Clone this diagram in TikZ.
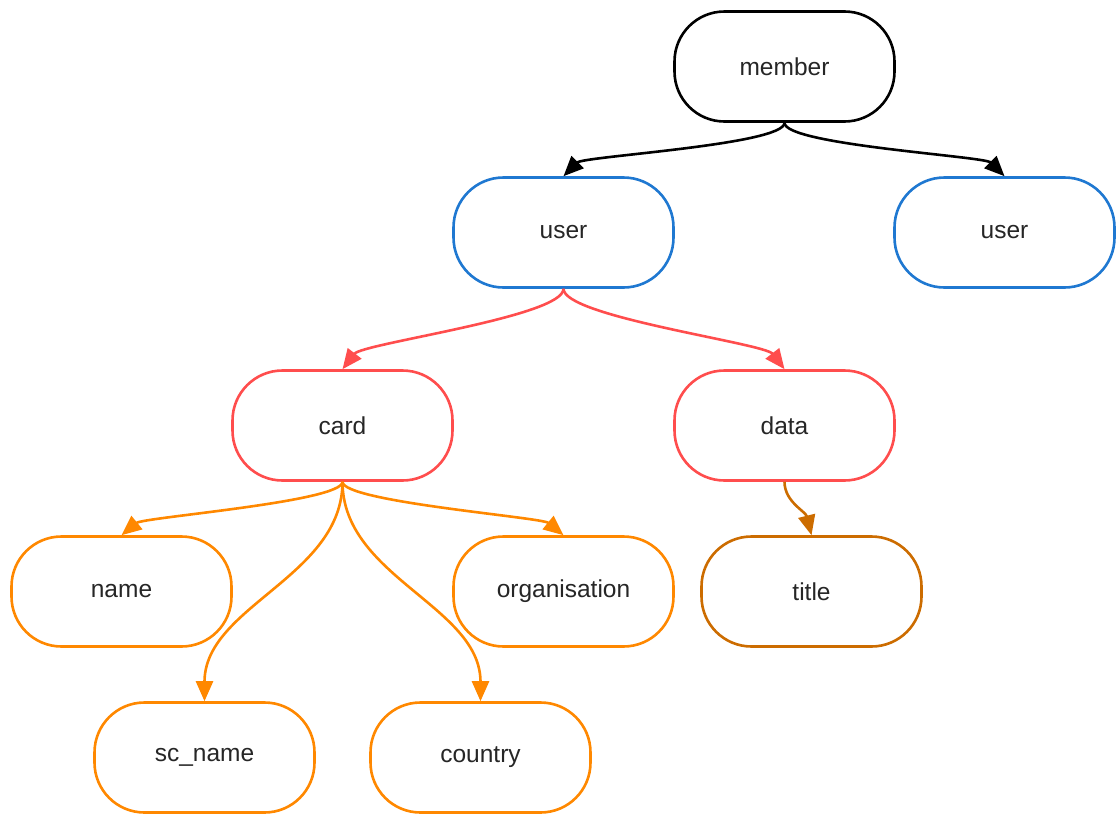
\documentclass[tikz,border=0pt]{standalone}
\usepackage{fontspec}
\setmainfont{Liberation Sans}
\usetikzlibrary{arrows.meta}
\definecolor{cblack}{RGB}{0,0,0}
\definecolor{cblue}{RGB}{31,120,209}
\definecolor{cred}{RGB}{255,77,77}
\definecolor{corange}{RGB}{255,136,0}
\definecolor{cbrown}{RGB}{204,108,0}
\tikzset{
  pill/.style={draw=#1, line width=2.6pt, rounded corners=50pt, minimum width=220pt, minimum height=110pt, inner sep=0pt, fill=white, text=black!85, font=\fontsize{24.5}{28}\selectfont},
  link/.style={draw=#1, line width=2.6pt, -{Triangle[length=20pt,width=17pt]}, fill=none},
}
% #1 colour, #2 start, #3 end, #4 start drop, #5 end control offset
\newcommand{\curve}[5]{\draw[link=#1] (#2) .. controls +(0,#4) and +(#5) .. (#3);}
\begin{document}
\begin{tikzpicture}[x=1pt,y=-1pt]
\useasboundingbox (0,0) rectangle (1116,814);
\node[pill=cblack] (member) at (784.5,66.5) {member};
\node[pill=cblue] (user1) at (563.5,232.5) {user};
\node[pill=cblue] (user2) at (1004.5,232.5) {user};
\node[pill=cred] (card) at (342.5,425.5) {card};
\node[pill=cred] (data) at (784.5,425.5) {data};
\node[pill=corange] (name) at (121.5,591.5) {name};
\node[pill=corange] (org) at (563.5,591.5) {organisation};
\node[pill=cbrown] (title) at (811.5,591.5) {title};
\node[pill=corange] (scname) at (204.5,757.5) {sc\_name};
\node[pill=corange] (country) at (480.5,757.5) {country};
\curve{cblack}{member.south}{user1.north}{22}{20,-20}
\curve{cblack}{member.south}{user2.north}{22}{-20,-20}
\curve{cred}{user1.south}{card.north}{28}{20,-26}
\curve{cred}{user1.south}{data.north}{28}{-20,-26}
\curve{corange}{card.south}{name.north}{20}{22,-18}
\curve{corange}{card.south}{org.north}{20}{-22,-18}
\curve{corange}{card.south}{scname.north}{95}{0,-95}
\curve{corange}{card.south}{country.north}{95}{0,-95}
\curve{cbrown}{data.south}{title.north}{20}{-6,-24}
\end{tikzpicture}
\end{document}
